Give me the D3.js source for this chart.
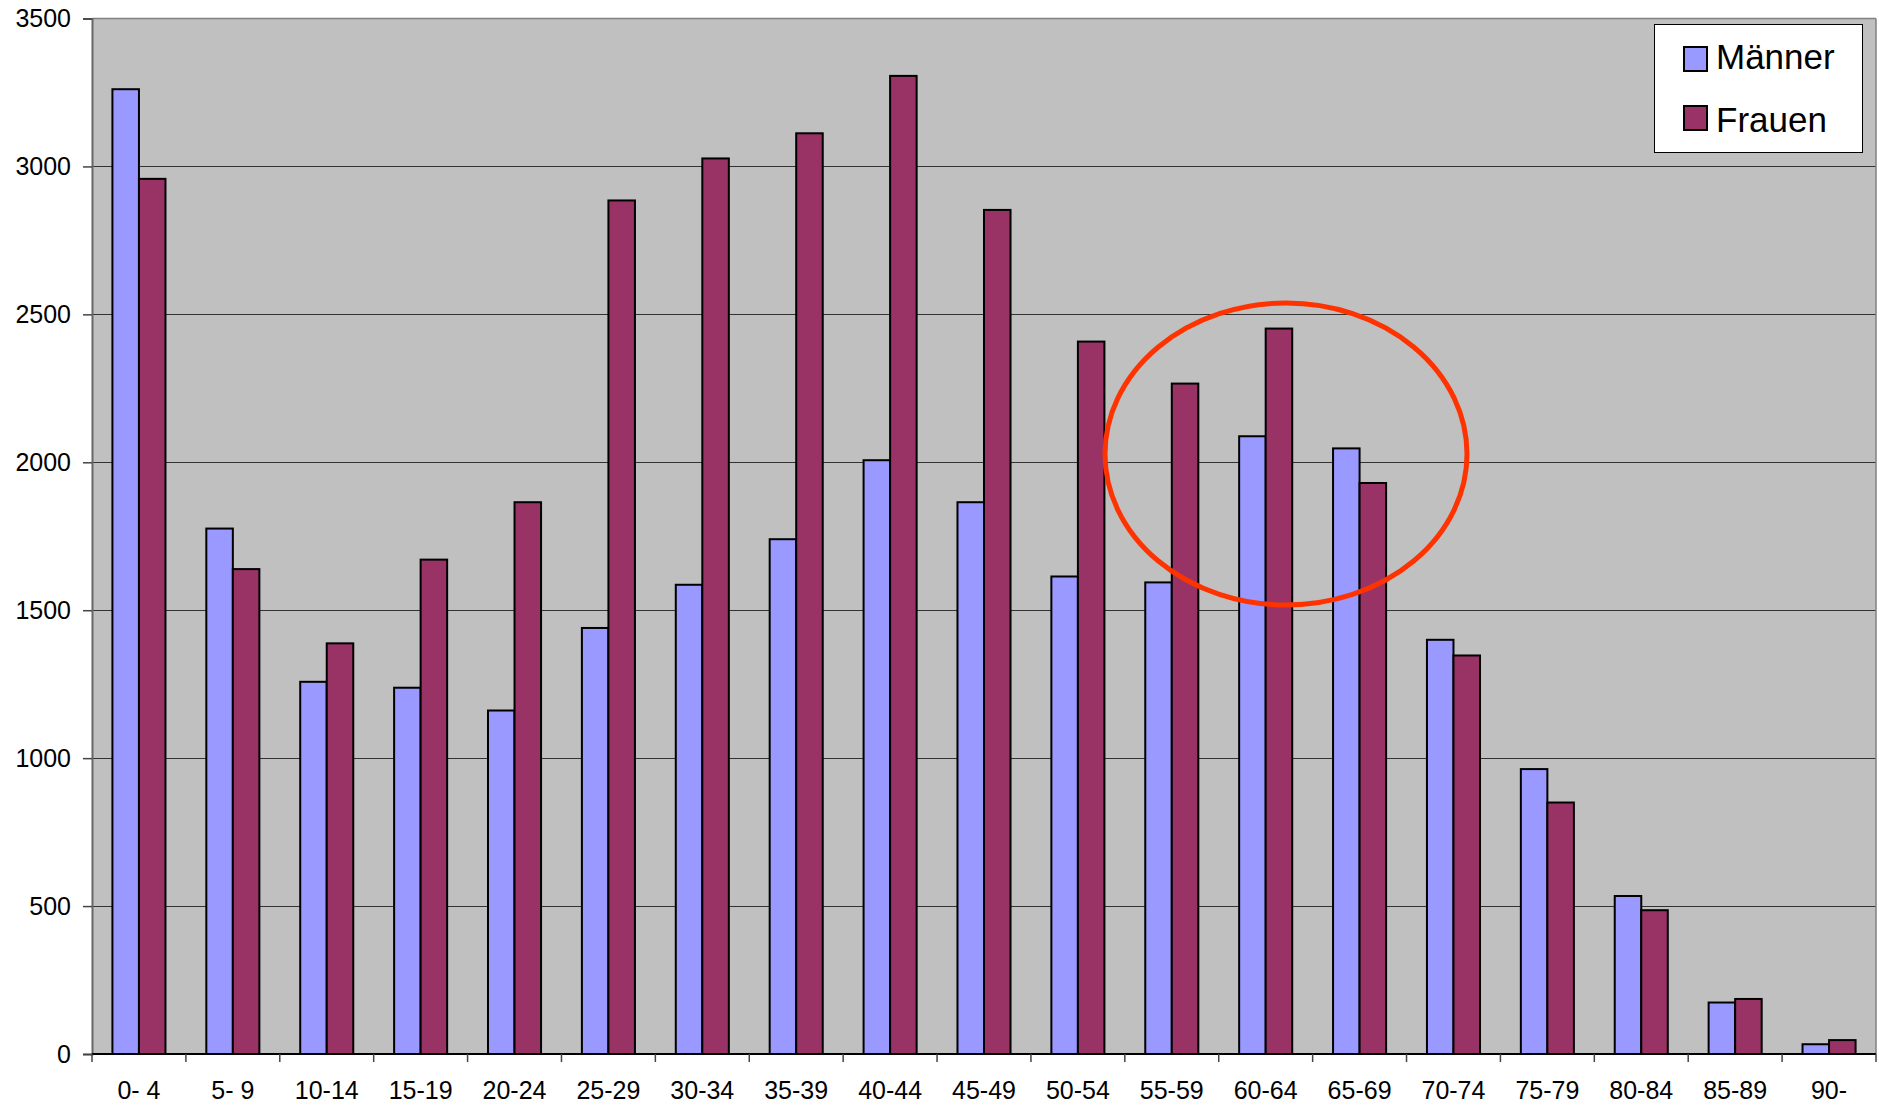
<!DOCTYPE html>
<html><head><meta charset="utf-8">
<script src="https://cdn.jsdelivr.net/npm/d3@7"></script>
<style>body{margin:0;background:#fff;}svg{display:block;font-family:"Liberation Sans",Arial,sans-serif;}</style>
</head><body>
<svg id="c" width="1879" height="1106"></svg>
<script>
const categories = ["0- 4","5- 9","10-14","15-19","20-24","25-29","30-34","35-39","40-44","45-49","50-54","55-59","60-64","65-69","70-74","75-79","80-84","85-89","90-"];
const maenner = [3261,1776,1258,1238,1161,1440,1586,1740,2007,1865,1614,1594,2088,2047,1400,963,534,174,33];
const frauen  = [2958,1639,1388,1671,1865,2885,3027,3112,3306,2853,2408,2266,2452,1930,1347,850,486,186,47];
const yTicks = [0,500,1000,1500,2000,2500,3000,3500];
const seriesNames = ["Männer","Frauen"];
const colors = ["#9999FF","#993366"];

const svg = d3.select("#c");
const L=92, R=1876, T=18.5, B=1054;
const x = d3.scaleBand().domain(categories).range([L,R]).paddingInner(0).paddingOuter(0);
const x1 = d3.scaleBand().domain(seriesNames).range([0,x.bandwidth()]).paddingInner(0).paddingOuter(0.77);
const y = d3.scaleLinear().domain([0,3500]).range([B,T]);

svg.append("rect").attr("x",L).attr("y",T).attr("width",R-L).attr("height",B-T).attr("fill","#C0C0C0");
// gridlines
svg.append("g").selectAll("line").data(yTicks.filter(d=>d>0 && d<3500)).join("line")
  .attr("x1",L).attr("x2",R).attr("y1",d=>Math.round(y(d))+0.5).attr("y2",d=>Math.round(y(d))+0.5)
  .attr("stroke","#333").attr("stroke-width",1.2);
// border top/right
svg.append("line").attr("x1",L).attr("x2",R).attr("y1",T).attr("y2",T).attr("stroke","#808080").attr("stroke-width",1.5);
svg.append("line").attr("x1",R).attr("x2",R).attr("y1",T).attr("y2",B).attr("stroke","#808080").attr("stroke-width",1.5);

// bars
const data = categories.map((c,i)=>({c, vals:[maenner[i],frauen[i]]}));
const g = svg.append("g");
data.forEach(d=>{
  d.vals.forEach((v,j)=>{
    g.append("rect")
      .attr("x",x(d.c)+x1(seriesNames[j]))
      .attr("y",y(v))
      .attr("width",x1.bandwidth())
      .attr("height",B-y(v))
      .attr("fill",colors[j]).attr("stroke","#000").attr("stroke-width",2);
  });
});

// axes
const yAxis = d3.axisLeft(y).tickValues(yTicks).tickSize(9).tickPadding(12).tickFormat(d3.format("d"));
const ya = svg.append("g").attr("transform",`translate(${L},0)`).call(yAxis);
ya.select(".domain").attr("stroke","#666").attr("stroke-width",2);
ya.selectAll(".tick line").attr("stroke","#444").attr("stroke-width",1.5);
ya.selectAll("text").attr("font-size",25).attr("fill","#000").attr("font-family","Liberation Sans, Arial, sans-serif");

const xa = svg.append("g").attr("transform",`translate(0,${B})`);
xa.append("line").attr("x1",L).attr("x2",R).attr("y1",0).attr("y2",0).attr("stroke","#000").attr("stroke-width",2);
xa.selectAll("line.tk").data(categories.map(c=>x(c)).concat([R])).join("line").attr("class","tk")
  .attr("x1",d=>d).attr("x2",d=>d).attr("y1",0).attr("y2",8).attr("stroke","#444").attr("stroke-width",1.5);
xa.selectAll("text").data(categories).join("text")
  .attr("x",d=>x(d)+x.bandwidth()/2).attr("y",45).attr("text-anchor","middle")
  .attr("font-size",25).attr("fill","#000").text(d=>d);

// legend
const lg = svg.append("g");
lg.append("rect").attr("x",1654.5).attr("y",24.5).attr("width",208).attr("height",128).attr("fill","#fff").attr("stroke","#000").attr("stroke-width",1);
const swY=[47,106], txY=[69,132];
seriesNames.forEach((s,i)=>{
  lg.append("rect").attr("x",1684).attr("y",swY[i]).attr("width",23).attr("height",24).attr("fill",colors[i]).attr("stroke","#000").attr("stroke-width",2);
  lg.append("text").attr("x",1716).attr("y",txY[i]).attr("font-size",35).attr("fill","#000").text(s);
});

// annotation ellipse
svg.append("ellipse").attr("cx",1286).attr("cy",454).attr("rx",181).attr("ry",151)
  .attr("fill","none").attr("stroke","#FF3300").attr("stroke-width",5);
</script>
</body></html>
